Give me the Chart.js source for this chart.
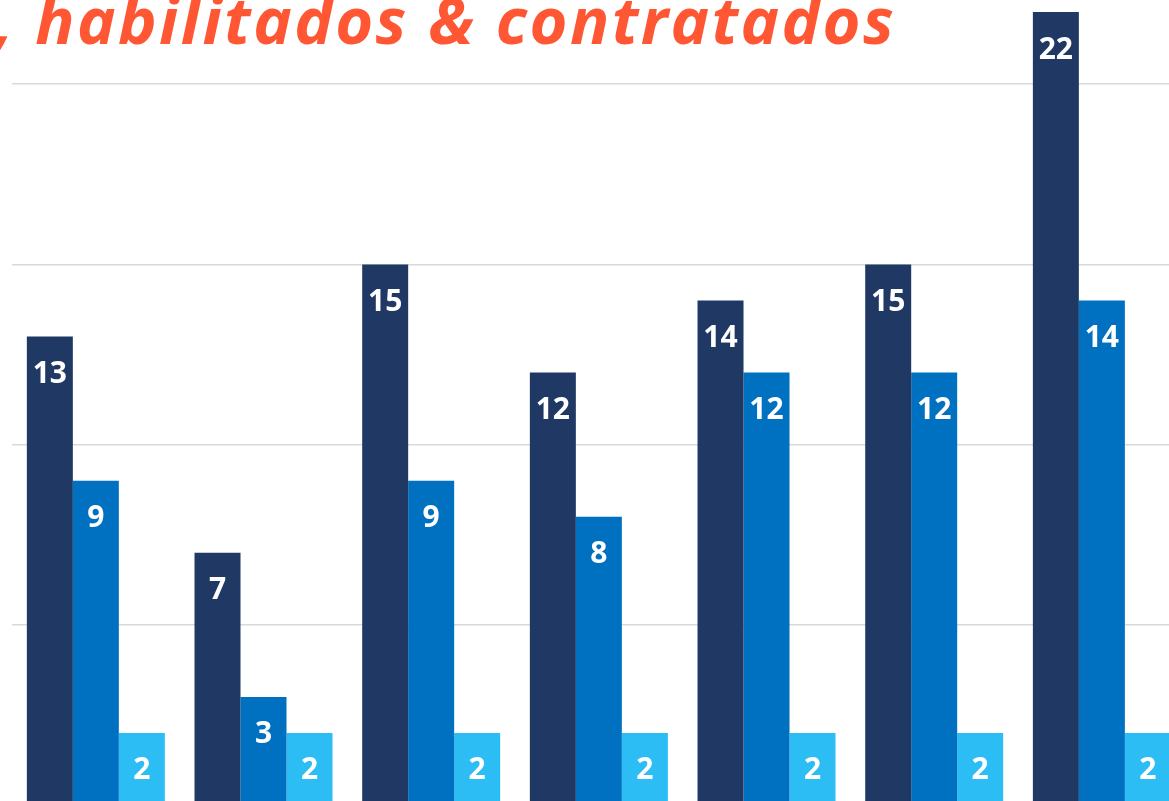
<!DOCTYPE html>
<html>
<head>
<meta charset="utf-8">
<script src="https://cdn.jsdelivr.net/npm/chart.js@4/dist/chart.umd.min.js"></script>
<style>
  body { margin: 0; background: #fff; overflow: hidden; width: 1169px; height: 801px; position: relative; }
  #titulo {
    position: absolute; left: -5px; top: -25px; white-space: nowrap;
    font-family: "Open Sans", sans-serif; font-weight: bold; font-style: italic;
    font-size: 65px; letter-spacing: 2.4px; color: #ff5733; z-index: 2;
  }
  #caja { position: absolute; left: 0; top: -100px; width: 1200px; height: 910px; }
</style>
</head>
<body>
<div id="titulo">, habilitados &amp; contratados</div>
<div id="caja"><canvas id="graficoBarras"></canvas></div>
<script>
const categorias = ['1', '2', '3', '4', '5', '6', '7'];
const postulados = [13, 7, 15, 12, 14, 15, 22];
const habilitados = [9, 3, 9, 8, 12, 12, 14];
const contratados = [2, 2, 2, 2, 2, 2, 2];

// etiquetas blancas dentro de cada barra
const etiquetas = {
    id: 'etiquetas',
    afterDatasetsDraw(chart) {
        const ctx = chart.ctx;
        ctx.save();
        ctx.fillStyle = '#ffffff';
        ctx.font = 'bold 30px "Open Sans", sans-serif';
        ctx.textAlign = 'center';
        ctx.textBaseline = 'middle';
        chart.data.datasets.forEach((ds, i) => {
            chart.getDatasetMeta(i).data.forEach((barra, j) => {
                ctx.fillText(ds.data[j], barra.x, barra.y + 38);
            });
        });
        ctx.restore();
    }
};

const ctx = document.getElementById('graficoBarras').getContext('2d');

new Chart(ctx, {
    type: 'bar',
    data: {
        labels: categorias,
        datasets: [
            { label: 'Postulados', data: postulados, backgroundColor: '#203864' },
            { label: 'Habilitados', data: habilitados, backgroundColor: '#0070c0' },
            { label: 'Contratados', data: contratados, backgroundColor: '#2bbdf3' }
        ]
    },
    options: {
        responsive: true,
        maintainAspectRatio: false,
        animation: false,
        categoryPercentage: 0.823,
        barPercentage: 1,
        layout: { padding: { left: 12, right: 14.3, top: 4, bottom: 5 } },
        plugins: {
            legend: { display: false },
            title: { display: false },
            tooltip: { enabled: false }
        },
        scales: {
            x: {
                display: false
            },
            y: {
                min: 0,
                max: 25,
                ticks: { display: false, stepSize: 5 },
                border: { display: false },
                grid: { color: '#d9d9d9', lineWidth: 1.5, drawTicks: false }
            }
        }
    },
    plugins: [etiquetas]
});
</script>
</body>
</html>
